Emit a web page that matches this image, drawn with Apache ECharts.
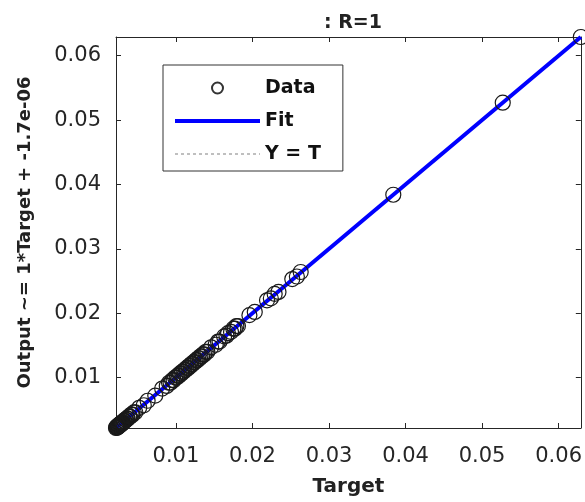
<!DOCTYPE html>
<html>
<head>
<meta charset="utf-8">
<script src="https://cdn.jsdelivr.net/npm/echarts@6/dist/echarts.min.js"></script>
<style>html,body{margin:0;padding:0;background:#fff}#c{width:585px;height:502px}</style>
</head>
<body>
<div id="c"></div>
<script>
// ---- data ----
var titleText = ': R=1';
var xAxisName = 'Target';
var yAxisName = 'Output ~= 1*Target + -1.7e-06';
var legendNames = ['Data', 'Fit', 'Y = T'];
var fitSlope = 1;
var fitIntercept = -1.7e-6;

var targets = [0.00217, 0.0022, 0.0023, 0.0023, 0.0024, 0.0024, 0.0025, 0.0025, 0.0026, 0.0026,
  0.0027, 0.0027, 0.0028, 0.0028, 0.0029, 0.0029, 0.0030, 0.0030, 0.0031, 0.0032,
  0.0033, 0.0034, 0.0035, 0.0036, 0.0037, 0.0039, 0.0040, 0.0042, 0.0043, 0.0045,
  0.0047, 0.0052, 0.0058, 0.0063, 0.0073, 0.0082, 0.0088, 0.0091, 0.0093, 0.0095,
  0.0097, 0.0099, 0.0101, 0.0102, 0.0104, 0.0105, 0.0107, 0.0108, 0.0110, 0.0111,
  0.0113, 0.0114, 0.0116, 0.0117, 0.0119, 0.0120, 0.0122, 0.0123, 0.0125, 0.0126,
  0.0128, 0.0129, 0.0131, 0.0132, 0.0134, 0.0135, 0.0137, 0.0139, 0.0141, 0.0146,
  0.0152, 0.0155, 0.0157, 0.0163, 0.0166, 0.0168, 0.0172, 0.0175, 0.0177, 0.0179,
  0.0181, 0.0196, 0.0203, 0.0219, 0.0224, 0.0229, 0.0234, 0.0252, 0.0258, 0.0263,
  0.0384, 0.0527, 0.0629];
var outputs = [0.00217, 0.0023, 0.0022, 0.0024, 0.0023, 0.0025, 0.0024, 0.0026, 0.0025, 0.0027,
  0.0026, 0.0028, 0.0027, 0.0029, 0.0028, 0.0030, 0.0029, 0.0031, 0.0030, 0.0033,
  0.0032, 0.0035, 0.0034, 0.0037, 0.0036, 0.0040, 0.0039, 0.0043, 0.0042, 0.0046,
  0.0046, 0.0053, 0.0057, 0.0064, 0.0072, 0.0083, 0.0087, 0.0092, 0.0092, 0.0096,
  0.0096, 0.0100, 0.0100, 0.0103, 0.0103, 0.0106, 0.0106, 0.0109, 0.0109, 0.0112,
  0.0112, 0.0115, 0.0115, 0.0118, 0.0118, 0.0121, 0.0121, 0.0124, 0.0124, 0.0127,
  0.0127, 0.0130, 0.0130, 0.0133, 0.0133, 0.0136, 0.0136, 0.0140, 0.0140, 0.0147,
  0.0151, 0.0156, 0.0156, 0.0164, 0.0165, 0.0169, 0.0171, 0.0176, 0.0176, 0.0180,
  0.0180, 0.0197, 0.0202, 0.0220, 0.0223, 0.0230, 0.0233, 0.0253, 0.0257, 0.0264,
  0.0384, 0.0527, 0.0629];

var axisMin = Math.min.apply(null, targets.concat(outputs));
var axisMax = Math.max.apply(null, targets.concat(outputs));
var tMin = Math.min.apply(null, targets), tMax = Math.max.apply(null, targets);

var scatterData = targets.map(function (t, i) { return [t, outputs[i]]; });
var fitData = [[tMin, fitSlope * tMin + fitIntercept], [tMax, fitSlope * tMax + fitIntercept]];
var identData = [[axisMin, axisMin], [axisMax, axisMax]];

var axisColor = '#262626';
var labelFont = {fontFamily: 'DejaVu Sans', fontSize: 21, color: axisColor};
function fmt(v) { return v.toFixed(2); }

function mkAxis(pos, showLabel, name, nameGap, margin) {
  return {
    type: 'value', position: pos, min: axisMin, max: axisMax, splitNumber: 5,
    name: name || '', nameLocation: 'middle', nameGap: nameGap || 0,
    nameTextStyle: {fontFamily: 'DejaVu Sans', fontWeight: 'bold', fontSize: pos === 'left' ? 18 : 20, color: '#222'},
    axisLine: {show: true, onZero: false, lineStyle: {color: axisColor, width: 1}},
    axisTick: {show: true, inside: true, length: 5, lineStyle: {color: axisColor}},
    axisLabel: Object.assign({show: showLabel, formatter: fmt, showMinLabel: false, showMaxLabel: false,
      margin: margin || 12}, labelFont),
    splitLine: {show: false}
  };
}

var hidden = {color: 'rgba(0,0,0,0)', borderColor: 'rgba(0,0,0,0)', borderWidth: 0, opacity: 0};

var chart = echarts.init(document.getElementById('c'), null, {renderer: 'canvas'});
chart.setOption({
  animation: false,
  backgroundColor: '#fff',
  title: {text: titleText, left: 348, textAlign: 'center', top: 9,
    textStyle: {fontFamily: 'DejaVu Sans', fontWeight: 'bold', fontSize: 19, color: '#222'}},
  grid: {left: 116, right: 4, top: 37, bottom: 74, containLabel: false},
  legend: {
    orient: 'vertical', left: 163, top: 65,
    data: [
      {name: legendNames[0], icon: 'emptyCircle', itemStyle: {color: '#333', borderColor: '#333', borderWidth: 1.3}},
      {name: legendNames[1], itemStyle: hidden, lineStyle: {color: '#0000ff', width: 4}},
      {name: legendNames[2], itemStyle: hidden, lineStyle: {color: '#aaaaaa', width: 1.5, type: [3, 3]}}
    ],
    itemWidth: 85, itemHeight: 11, itemGap: 13,
    padding: [13, 22, 7, 10],
    backgroundColor: '#fff', borderColor: '#333', borderWidth: 1, borderRadius: 0,
    textStyle: {fontFamily: 'DejaVu Sans', fontWeight: 'bold', fontSize: 19, color: '#111', lineHeight: 20}
  },
  xAxis: [mkAxis('bottom', true, xAxisName, 49, 18), mkAxis('top', false)],
  yAxis: [mkAxis('left', true, yAxisName, 82, 15), mkAxis('right', false)],
  series: [
    {name: legendNames[2], type: 'line', data: identData, showSymbol: false, symbol: 'none', z: 1,
      lineStyle: {color: '#aaaaaa', width: 1.5, type: [3, 3]}, itemStyle: {color: '#aaaaaa'}},
    {name: legendNames[1], type: 'line', data: fitData, showSymbol: false, symbol: 'none', z: 2,
      lineStyle: {color: '#0000ff', width: 4}, itemStyle: {color: '#0000ff'}},
    {name: legendNames[0], type: 'scatter', data: scatterData, symbol: 'circle', symbolSize: 15, z: 3,
      itemStyle: {color: 'rgba(0,0,0,0)', borderColor: '#1a1a1a', borderWidth: 1.2, opacity: 1}}
  ]
});
</script>
</body>
</html>
